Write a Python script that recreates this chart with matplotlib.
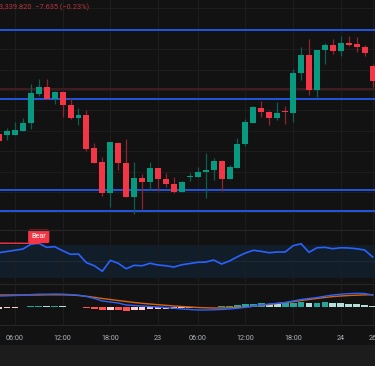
import matplotlib
matplotlib.use("Agg")
from matplotlib import pyplot as plt
import numpy as np

plt.rcParams['font.family'] = ['Roboto', 'DejaVu Sans']

# hourly candles (index 0 = first visible one)
opens = [3328.50, 3328.33, 3328.33, 3329.33, 3331.25, 3338.58, 3340.25, 3337.18, 3338.93, 3335.68,
         3332.58, 3333.25, 3324.93, 3321.50, 3313.68, 3326.33, 3321.18, 3312.68, 3317.50, 3316.43,
         3319.93, 3317.25, 3315.93, 3314.08, 3317.83, 3317.83, 3319.00, 3319.50, 3321.83, 3317.33,
         3320.08, 3325.93, 3331.18, 3335.08, 3334.08, 3332.58, 3334.08, 3333.68, 3343.83, 3348.33,
         3339.50, 3349.50, 3350.68, 3349.33, 3351.25, 3350.93, 3350.25, 3345.43]
highs = [3329.00, 3329.93, 3331.50, 3332.43, 3341.08, 3342.18, 3342.33, 3339.25, 3339.25, 3337.43,
         3335.08, 3334.43, 3326.18, 3322.83, 3326.50, 3326.38, 3327.25, 3321.50, 3318.43, 3321.50,
         3320.00, 3318.68, 3317.68, 3316.75, 3318.83, 3320.18, 3323.68, 3322.43, 3321.88, 3320.68,
         3327.43, 3332.25, 3335.50, 3336.75, 3334.13, 3336.58, 3335.50, 3344.68, 3350.18, 3352.25,
         3349.50, 3351.18, 3352.18, 3353.00, 3352.93, 3352.83, 3350.83, 3346.00]
lows = [3326.25, 3327.00, 3328.13, 3329.25, 3329.75, 3338.00, 3337.13, 3336.00, 3332.68, 3332.18,
        3330.68, 3324.33, 3321.25, 3313.08, 3310.33, 3319.50, 3312.63, 3308.50, 3309.68, 3314.50,
        3314.25, 3315.33, 3313.68, 3314.00, 3316.83, 3317.68, 3312.50, 3317.00, 3314.33, 3317.25,
        3320.00, 3325.58, 3331.13, 3332.83, 3330.75, 3332.00, 3331.08, 3331.58, 3342.00, 3338.25,
        3337.83, 3345.93, 3348.50, 3348.08, 3350.50, 3349.08, 3348.00, 3340.33]
closes = [3326.75, 3329.25, 3329.43, 3331.25, 3338.68, 3340.25, 3337.18, 3338.93, 3335.68, 3332.58,
          3333.25, 3324.68, 3321.33, 3313.83, 3326.43, 3321.18, 3312.68, 3317.50, 3316.43, 3319.93,
          3317.25, 3315.93, 3313.93, 3316.50, 3317.93, 3319.00, 3319.50, 3321.75, 3317.33, 3320.18,
          3326.08, 3331.43, 3335.18, 3334.00, 3332.58, 3333.68, 3333.93, 3343.83, 3348.33, 3339.50,
          3349.43, 3350.68, 3349.33, 3351.25, 3350.83, 3350.25, 3348.83, 3341.75]

rsi = [60.6, 62.0, 63.5, 65.0, 70.8, 72.0, 67.1, 67.9, 63.0, 58.6,
       58.9, 48.3, 44.6, 37.8, 51.2, 47.6, 40.9, 45.1, 44.6, 47.6,
       45.5, 44.6, 43.0, 45.8, 47.3, 48.8, 49.1, 51.6, 46.7, 50.4,
       55.6, 60.2, 63.5, 62.2, 60.5, 61.4, 61.4, 69.1, 71.5, 61.0,
       66.6, 67.1, 65.4, 66.6, 66.3, 65.4, 63.8, 55.3]

macd = [10.5, 10.7, 11.0, 11.3, 11.9, 12.3, 12.3, 12.5, 12.3, 11.9,
        11.3, 10.0, 8.0, 5.5, 4.5, 3.5, 1.5, 1.0, 0.5, 0.0,
        -0.5, -1.0, -1.7, -2.5, -3.0, -3.5, -3.5, -3.3, -3.0, -2.5,
        -1.8, -0.8, 0.5, 1.5, 2.5, 3.2, 4.0, 5.5, 7.0, 8.0,
        9.0, 10.3, 11.5, 12.3, 12.9, 13.2, 13.0, 11.5]
signal = [11.5, 11.5, 11.5, 11.5, 11.5, 11.5, 11.7, 11.7, 11.7, 11.5,
          11.0, 10.2, 9.2, 8.0, 7.0, 6.0, 5.0, 4.0, 3.2, 2.5,
          1.8, 1.2, 0.5, 0.0, -0.5, -1.0, -1.3, -1.5, -1.5, -1.3,
          -1.0, -0.5, 0.2, 1.0, 2.0, 3.0, 3.8, 4.8, 6.0, 7.0,
          8.0, 9.0, 9.9, 10.5, 11.0, 11.3, 11.6, 11.8]
hist = [-2.0, -1.6, -1.2, -0.8, 0.3, 0.8, 0.6, 0.9, 0.4, -0.3,
        -0.8, -1.6, -2.5, -3.5, -3.0, -3.6, -4.2, -3.8, -3.4, -2.8,
        -2.6, -2.4, -2.2, -1.9, -1.5, -1.0, -0.6, -0.3, 0.2, 0.8,
        1.5, 2.2, 3.0, 3.2, 3.0, 2.8, 3.2, 3.8, 4.2, 3.8,
        4.0, 4.2, 3.8, 3.5, 3.0, 2.5, 1.8, 0.5]

levels = [3354.38, 3337.18, 3314.43, 3309.25]   # blue horizontal lines
prev_close = 3339.82

tick_pos = [2, 8, 14, 20, 25, 31, 37, 43, 47]
tick_lab = ['06:00', '12:00', '18:00', '23', '06:00', '12:00', '18:00', '24', '26']

bg = '#121212'
grid = '#1d1d1d'
up, down = '#089981', '#f23645'
up_w, down_w = '#0b5e50', '#8a2631'

W, H = 375, 366
fig = plt.figure(figsize=(W / 100, H / 100), dpi=100, facecolor=bg)

def pane(top, bottom):
    ax = fig.add_axes([0, 1 - bottom / H, 1, (bottom - top) / H])
    ax.set_facecolor(bg)
    for s in ax.spines.values():
        s.set_visible(False)
    ax.set_xlim(0.126, 47.3)
    ax.set_xticks(tick_pos)
    ax.set_yticks([])
    ax.tick_params(length=0, labelbottom=False)
    ax.grid(axis='x', color=grid, lw=0.8)
    ax.set_axisbelow(True)
    return ax

x = np.arange(len(opens))

# ---- price pane
ax = pane(0, 229)
ax.set_ylim(3304.75, 3362)
for g in np.arange(3359.9, 3305, -5.1):
    ax.axhline(g, color=grid, lw=0.8, zorder=0)
ax.axhline(prev_close, color='#4a1d22', lw=1.2, zorder=1)
for lv in levels:
    ax.axhline(lv, color='#2356e0', lw=1.4, zorder=1)
o = np.array(opens); c = np.array(closes)
isup = c >= o
ax.vlines(x, lows, highs, colors=[up_w if u else down_w for u in isup], lw=0.9, zorder=2)
body = np.maximum(np.abs(c - o), 0.25)
ax.bar(x, body, 0.75, bottom=np.minimum(o, c), color=[up if u else down for u in isup], zorder=3)
ax.text(-1.5 / 7.95 + 0.126, 1 - 7.5 / 229, '3,339.820  \u22127.635 (\u22120.23%)', transform=ax.get_xaxis_transform(),
        color='#b8343d', fontsize=5.3, va='center', ha='left')

# ---- RSI pane
ax2 = pane(230, 283)
ax2.set_ylim(23.5, 88.3)
ax2.axhspan(30, 70, color='#111d29', zorder=0, lw=0)
ax2.axhline(50, color='#1e2936', lw=0.8, zorder=1)
ax2.plot(x, rsi, color='#2962ff', lw=1.2, zorder=3)
ax2.plot([-1, 5], [72.2, 72.0], color=down, lw=1.0, zorder=3)
ax2.text(5, 80.5, 'Bear', color='white', fontsize=5.2, ha='center', va='center', zorder=5,
         bbox=dict(boxstyle='round,pad=0.45,rounding_size=0.25', fc=down, ec='none'))

# ---- MACD pane
ax3 = pane(284, 325)
ax3.set_ylim(-18.5, 22.5)
hcol = []
prev = -2.4
for h in hist:
    if h >= 0:
        hcol.append('#26a69a' if h > prev else '#b2dfdb')
    else:
        hcol.append('#ffcdd2' if h > prev else '#ff5252')
    prev = h
ax3.bar(x, hist, 0.85, color=hcol, zorder=2)
ax3.plot(x, signal, color='#d9640f', lw=1.0, zorder=3)
ax3.plot(x, macd, color='#2962ff', lw=1.0, zorder=4)
ax3.tick_params(labelbottom=True, labelsize=5.2, labelcolor='#b0b3bb', pad=7)
ax3.set_xticklabels(tick_lab)

# separators and bottom bar
for yy in (229.5, 283.5, 324.5):
    fig.add_artist(plt.Line2D([0, 1], [1 - yy / H] * 2, color='#262626', lw=0.8))
fig.add_artist(plt.Rectangle((0, 0), 1, 21 / H, color='#1c1c1c', transform=fig.transFigure))

fig.savefig('out.png', dpi=100, facecolor=bg)
